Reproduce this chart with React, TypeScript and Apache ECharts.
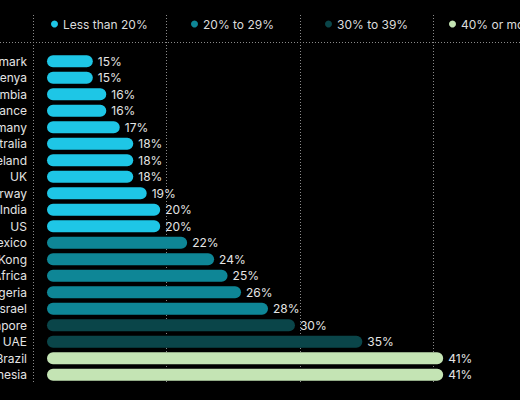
import { useRef, useEffect } from "react";
import * as echarts from "echarts";
import type { EChartsOption } from "echarts";

const countries = [
  "Denmark", "Kenya", "Colombia", "France", "Germany", "Australia", "Ireland",
  "UK", "Norway", "India", "US", "Mexico", "Hong Kong", "South Africa",
  "Nigeria", "Israel", "Singapore", "UAE", "Brazil", "Indonesia",
];
const shares = [15, 15, 16, 16, 17, 18, 18, 18, 19, 20, 20, 22, 24, 25, 26, 28, 30, 35, 41, 41];
const groupNames = ["Less than 20%", "20% to 29%", "30% to 39%", "40% or more"];
const groupColors = ["#1ec6e6", "#0e8696", "#0a4549", "#c4e4b4"];
// India and US (shown as 20%) are coloured as the first band in the source
const groupOf = (v: number) => (v <= 20 ? 0 : v < 30 ? 1 : v < 40 ? 2 : 3);

export default function App() {
  const chartRef = useRef<HTMLDivElement>(null);

  useEffect(() => {
    if (!chartRef.current) return;
    const chart = echarts.init(chartRef.current, null, { renderer: "svg" });

    const dotted = { stroke: "#8a8a8a", lineWidth: 1, lineDash: [1, 2] };
    const vLines = [33, 166, 300, 433].map((x) => ({
      type: "line" as const,
      shape: { x1: x + 0.5, y1: 15, x2: x + 0.5, y2: 384 },
      style: dotted,
      silent: true,
    }));

    const legendLefts = [51, 191, 325, 449];

    const option: EChartsOption = {
      animation: false,
      backgroundColor: "#000",
      textStyle: { fontFamily: "Inter, 'Noto Sans', sans-serif" },
      grid: {
        left: 47,
        right: 0,
        top: 53,
        bottom: 17,
        containLabel: false,
        outerBoundsMode: "none",
      } as any,
      legend: groupNames.map((name, i) => ({
        data: [name],
        left: legendLefts[i],
        top: 18,
        padding: 0,
        icon: "circle",
        itemWidth: 7,
        itemHeight: 7,
        textStyle: { color: "#dcdcdc", fontSize: 12, fontFamily: "Inter, sans-serif" },
        selectedMode: false,
      })),
      xAxis: {
        type: "value",
        min: 11.6,
        max: 46.7,
        show: false,
        splitLine: { show: false },
      },
      yAxis: {
        type: "category",
        data: countries,
        inverse: true,
        axisLine: { show: false },
        axisTick: { show: false },
        axisLabel: { color: "#e4e4e4", fontSize: 12, margin: 20 },
      },
      graphic: [
        ...vLines,
        {
          type: "line",
          shape: { x1: 0, y1: 42.5, x2: 520, y2: 42.5 },
          style: dotted,
          silent: true,
        },
      ],
      series: groupNames.map((name, i) => ({
        name,
        type: "bar" as const,
        startValue: 11.6,
        barWidth: 12,
        barGap: "-100%",
        itemStyle: { color: groupColors[i], borderRadius: 6 },
        label: {
          show: true,
          position: "right" as const,
          distance: 5,
          color: "#e4e4e4",
          fontSize: 12,
          formatter: "{c}%",
        },
        data: shares.map((v) => (groupOf(v) === i ? v : "-")),
      })),
    };

    chart.setOption(option);

    return () => {
      chart.dispose();
    };
  }, []);

  return (
    <div
      ref={chartRef}
      style={{ position: "fixed", left: 0, top: 0, width: 520, height: 400 }}
    />
  );
}
